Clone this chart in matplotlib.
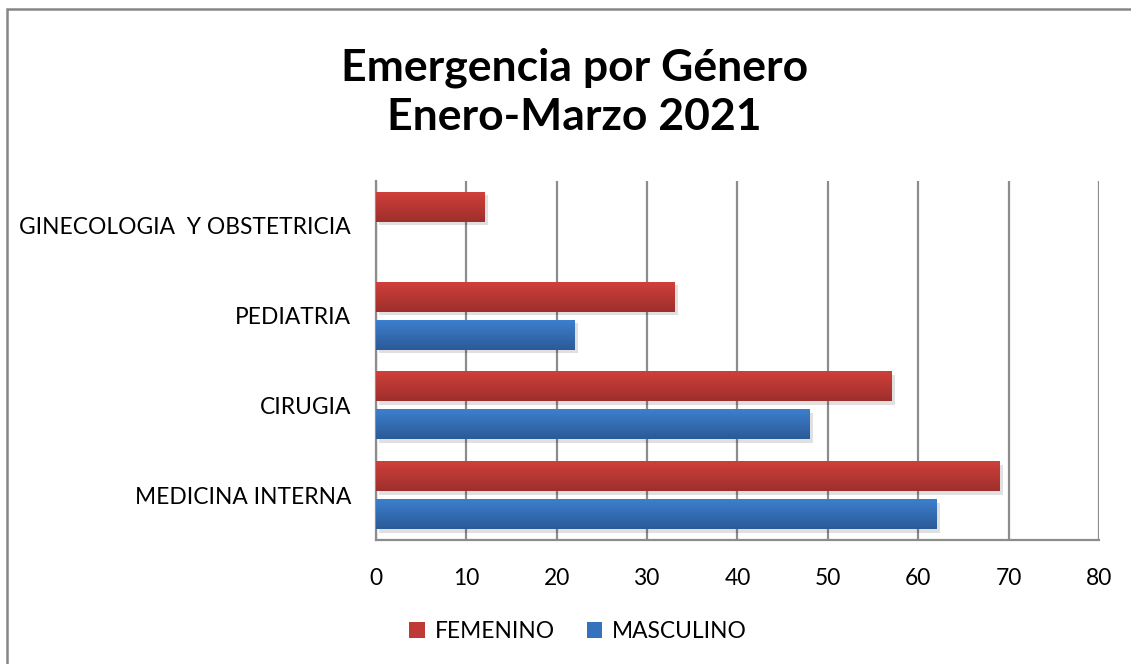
import matplotlib.pyplot as plt
import matplotlib.patheffects as pe
from matplotlib.patches import Rectangle, Patch
from matplotlib.colors import LinearSegmentedColormap
import numpy as np

plt.rcParams['font.family'] = ['Lato', 'DejaVu Sans']

# data
categorias = ['MEDICINA INTERNA', 'CIRUGIA', 'PEDIATRIA', 'GINECOLOGIA  Y OBSTETRICIA']
femenino = [69, 57, 33, 12]
masculino = [62, 48, 22, 0]

RED_TOP, RED_BOT = '#D2403B', '#9E2F2C'
BLUE_TOP, BLUE_BOT = '#3D80CF', '#2B5A98'
GRID = '#8C8C8C'

fig = plt.figure(figsize=(11.31, 6.64), dpi=100)
ax = fig.add_axes([0.3324, 0.1867, 0.6393, 0.5407])

y = np.arange(len(categorias))
h = 0.335
off = 0.212
b_fem = ax.barh(y + off, femenino, height=h, color=RED_BOT, zorder=3)
b_mas = ax.barh(y - off, masculino, height=h, color=BLUE_BOT, zorder=3)

# gradient fill + soft shadow on every bar
def shade(bars, top, bot):
    cmap = LinearSegmentedColormap.from_list('g', [bot, top])
    grad = np.linspace(0, 1, 64).reshape(-1, 1)
    for p in bars:
        if p.get_width() <= 0:
            p.set_visible(False)
            continue
        p.set_path_effects([pe.SimplePatchShadow(offset=(2.5, -2.5), shadow_rgbFace='#000000', alpha=0.12),
                            pe.Normal()])
        x0, y0 = p.get_x(), p.get_y()
        im = ax.imshow(grad, cmap=cmap, aspect='auto', origin='lower',
                       extent=(x0, x0 + p.get_width(), y0, y0 + p.get_height()), zorder=4)
        im.set_clip_path(p)

shade(b_fem, RED_TOP, RED_BOT)
shade(b_mas, BLUE_TOP, BLUE_BOT)

ax.set_xlim(0, 80)
ax.set_ylim(-0.5, len(categorias) - 0.5)
ax.set_xticks(range(0, 81, 10))
ax.set_yticks(y)
ax.set_yticklabels(categorias)
ax.tick_params(axis='both', length=0, labelsize=16.4, colors='black')
ax.tick_params(axis='x', pad=20)
ax.tick_params(axis='y', pad=18)
ax.grid(axis='x', color=GRID, linewidth=1.6, zorder=0)
for s in ['top', 'right']:
    ax.spines[s].set_visible(False)
for s in ['left', 'bottom']:
    ax.spines[s].set_color(GRID)
    ax.spines[s].set_linewidth(1.6)

fig.text(0.508, 0.861, 'Emergencia por Género\nEnero-Marzo 2021', ha='center', va='center',
         fontsize=32, fontweight='bold', linespacing=1.3)

handles = [Patch(facecolor='#BF3A36', label='FEMENINO'),
           Patch(facecolor='#3572BE', label='MASCULINO')]
fig.legend(handles=handles, loc='center', bbox_to_anchor=(0.511, 0.049), ncol=2,
           frameon=False, fontsize=16.4, handlelength=0.7, handleheight=0.7,
           handletextpad=0.4, columnspacing=1.4)

# outer chart border
fig.add_artist(Rectangle((7 / 1131, -0.1), 1.2, 1 - 9 / 664 + 0.1, transform=fig.transFigure,
                         fill=False, edgecolor='#868686', linewidth=1.8))

fig.savefig('out.png', dpi=100)
